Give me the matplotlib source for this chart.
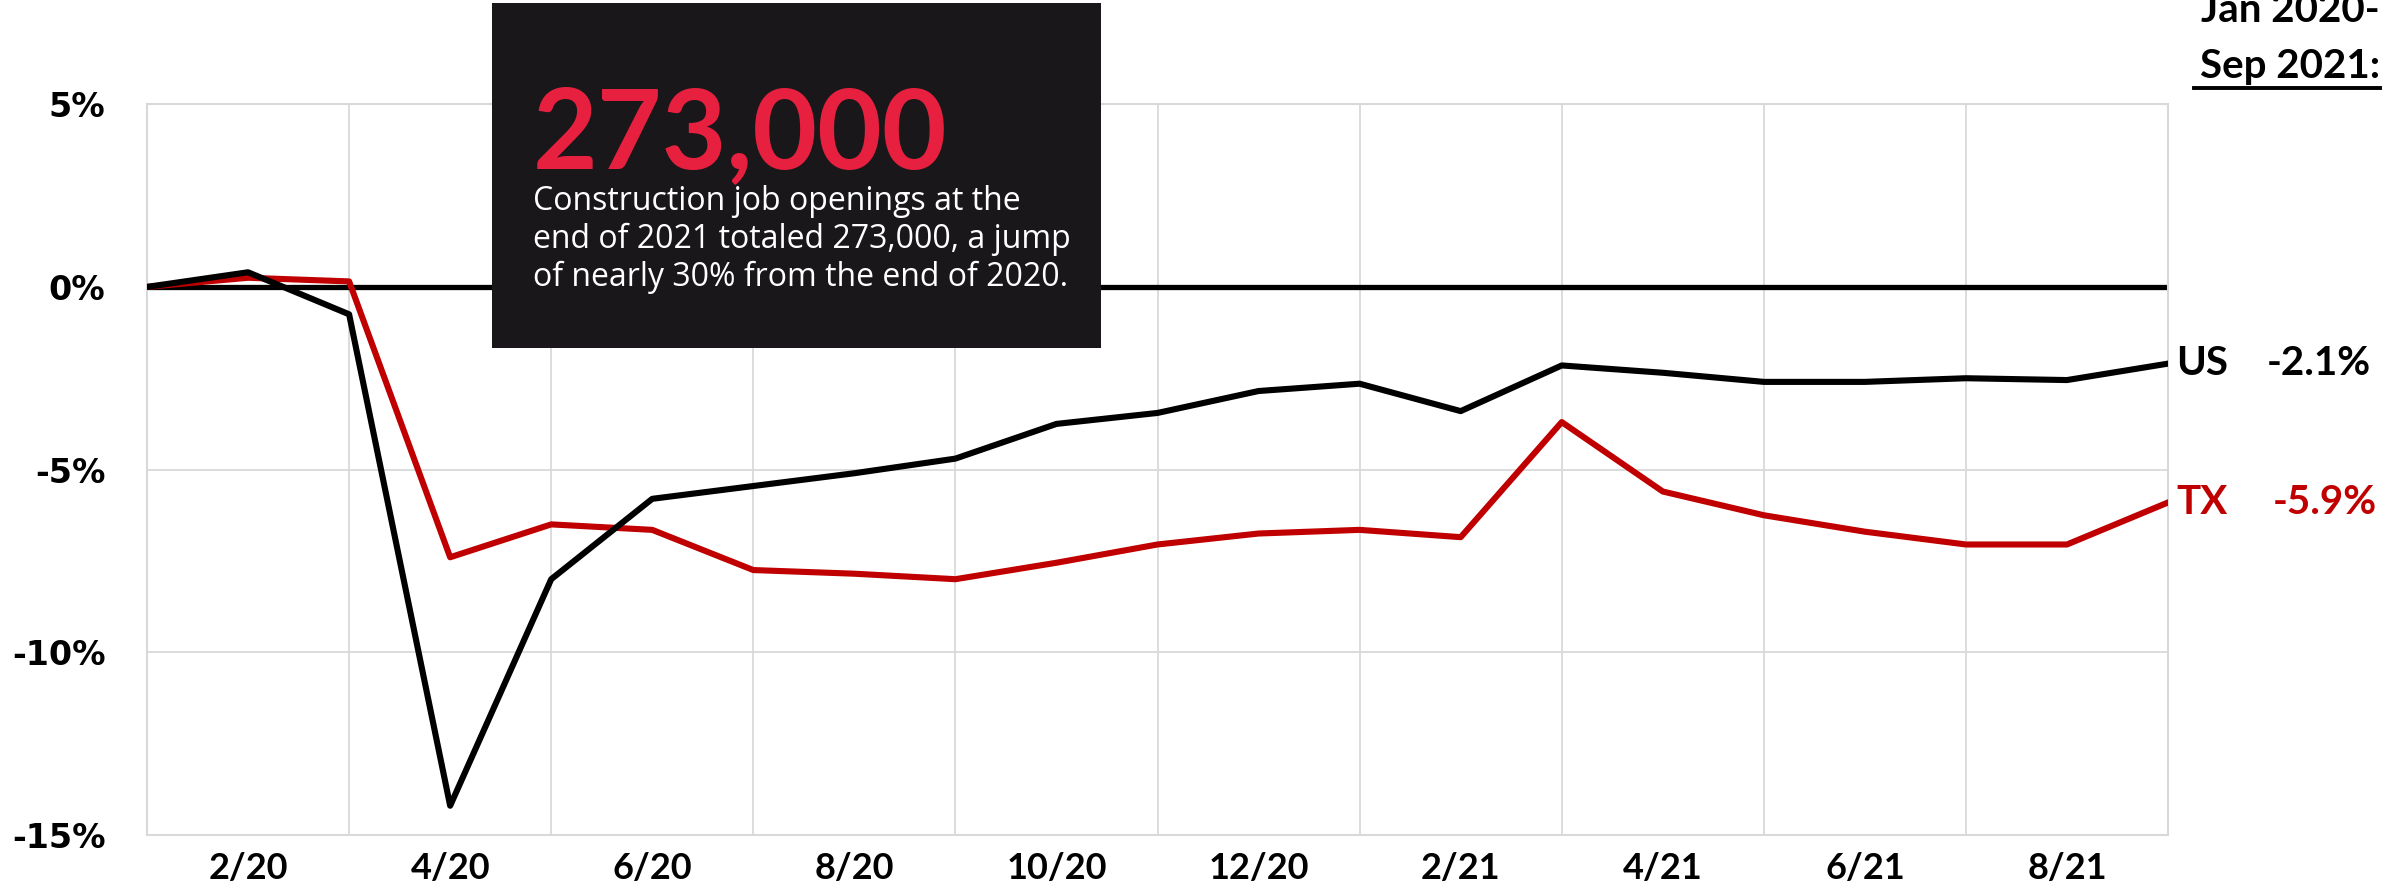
import matplotlib
matplotlib.use("Agg")
import matplotlib.pyplot as plt
from matplotlib.patches import Rectangle

# Monthly change in construction employment since Jan 2020 (%)
months = ["1/20", "2/20", "3/20", "4/20", "5/20", "6/20", "7/20", "8/20", "9/20",
          "10/20", "11/20", "12/20", "1/21", "2/21", "3/21", "4/21", "5/21",
          "6/21", "7/21", "8/21", "9/21"]
us = [0.0, 0.4, -0.75, -14.2, -8.0, -5.8, -5.45, -5.1, -4.7, -3.75, -3.45,
      -2.85, -2.65, -3.4, -2.15, -2.35, -2.6, -2.6, -2.5, -2.55, -2.1]
tx = [0.0, 0.25, 0.15, -7.4, -6.5, -6.65, -7.75, -7.85, -8.0, -7.55, -7.05,
      -6.75, -6.65, -6.85, -3.7, -5.6, -6.25, -6.7, -7.05, -7.05, -5.9]
yticks = [5, 0, -5, -10, -15]
ytick_labels = ["5%", "0%", "-5%", "-10%", "-15%"]

red = "#c00000"
grid = "#d9d9d9"

fig = plt.figure(figsize=(24.02, 8.83), dpi=100)
ax = fig.add_axes([0.0612, 0.0544, 0.9026 - 0.0612, 0.882 - 0.0544])

x = list(range(len(months)))
ax.plot(x, us, color="black", lw=4.4, zorder=4)
ax.plot(x, tx, color=red, lw=4.4, zorder=3)
ax.axhline(0, color="black", lw=3.8, zorder=2)

ax.set_xlim(0, len(months) - 1)
ax.set_ylim(-15, 5)
ax.set_xticks(x, minor=True)
ax.set_xticks(x[1::2])
ax.set_xticklabels(months[1::2], fontsize=26, fontweight="bold", family="Lato")
ax.set_yticks(yticks)
ax.set_yticklabels(ytick_labels, fontsize=24, fontweight="bold", family="DejaVu Sans")
ax.tick_params(axis="both", which="both", length=0)
ax.tick_params(axis="x", pad=12)
ax.tick_params(axis="y", pad=30)
ax.grid(True, which="minor", axis="x", color=grid, lw=1.3)
ax.grid(True, which="major", axis="y", color=grid, lw=1.3)
for s in ax.spines.values():
    s.set_color(grid)
    s.set_linewidth(1.5)

# end labels
lab = dict(fontsize=29, fontweight="bold", family="Lato", va="center")
ax.text(x[-1] + 0.08, us[-1], "US", color="black", **lab)
ax.text(x[-1] + 0.98, us[-1], "-2.1%", color="black", **lab)
ax.text(x[-1] + 0.08, tx[-1], "TX", color=red, **lab)
ax.text(x[-1] + 1.04, tx[-1], "-5.9%", color=red, **lab)

fig.text(0.9908, 0.975, "Jan 2020-", ha="right", va="baseline", fontsize=29,
         fontweight="bold", family="Lato")
fig.text(0.9908, 0.912, "Sep 2021:", ha="right", va="baseline", fontsize=29,
         fontweight="bold", family="Lato")
fig.add_artist(plt.Line2D([0.9135, 0.9908], [0.900, 0.900], color="black", lw=2.8,
                          transform=fig.transFigure))

# callout box
fig.add_artist(Rectangle((492 / 2402, 1 - 348 / 883), 609 / 2402, 345 / 883,
                         transform=fig.transFigure, facecolor="#1a171b",
                         edgecolor="none", zorder=10))
fig.text(533 / 2402, 1 - 168 / 883, "273,000", color="#e8203f", fontsize=80.5,
         fontweight="bold", family="Lato", va="baseline", zorder=11)
body = ["Construction job openings at the",
        "end of 2021 totaled 273,000, a jump",
        "of nearly 30% from the end of 2020."]
for i, line in enumerate(body):
    fig.text(533 / 2402, 1 - (210 + 38 * i) / 883, line, color="white", fontsize=23,
             family="Open Sans", va="baseline", zorder=11)

fig.savefig("out.png", dpi=100)
